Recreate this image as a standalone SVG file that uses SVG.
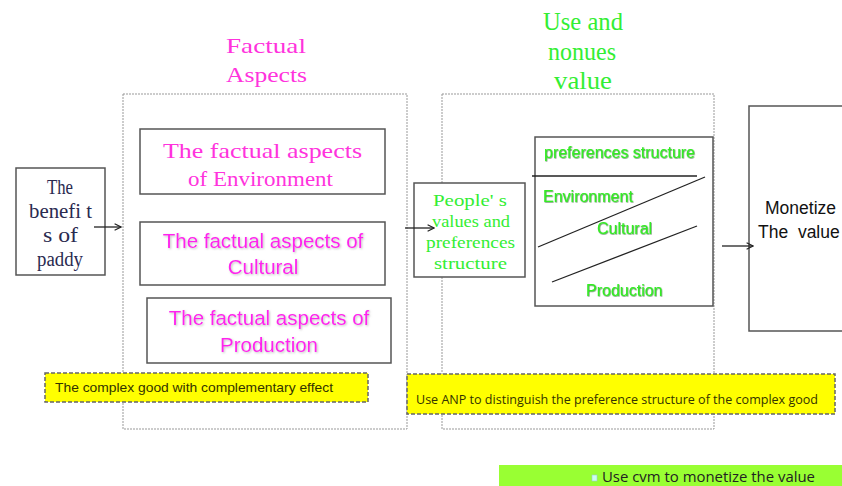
<svg xmlns="http://www.w3.org/2000/svg" width="842" height="486" viewBox="0 0 842 486">
<style>
.box{fill:#fff;stroke:#555;stroke-width:1.5}
.cont{fill:none;stroke:#999;stroke-width:1;stroke-dasharray:2,1}
.mag{fill:#ff33dd;font-family:"Liberation Serif",serif;font-size:22px}
.magS{fill:#ff22ee;font-family:"Liberation Sans",Arial,sans-serif;font-size:20.5px;filter:url(#sh)}
.grn{fill:#33ee33;font-family:"Liberation Serif",serif}
.grnS{fill:#33ee22;font-family:"Liberation Sans",Arial,sans-serif;font-size:16px;filter:url(#sh2)}
.yel{fill:#ffff00;stroke:#666;stroke-width:1.5;stroke-dasharray:4,2}
.ln{stroke:#222;stroke-width:1.3;fill:none}
.arr{stroke:#222;stroke-width:1.3;fill:none;marker-end:url(#ah)}
</style>
<defs>
<marker id="ah" viewBox="0 0 10 10" refX="9" refY="5" markerWidth="8" markerHeight="8" markerUnits="userSpaceOnUse" orient="auto">
<path d="M1,1 L9,5 L1,9" fill="none" stroke="#222" stroke-width="1.4"/>
</marker>
<filter id="sh" x="-5%" y="-20%" width="110%" height="140%">
<feDropShadow dx="1" dy="1" stdDeviation="1" flood-color="#999" flood-opacity="0.6"/>
</filter>
<filter id="sh2" x="-5%" y="-20%" width="110%" height="140%">
<feDropShadow dx="0.6" dy="0.6" stdDeviation="0.4" flood-color="#226622" flood-opacity="0.8"/>
</filter>
</defs>

<g id="benefits">
<rect class="box" x="16" y="168" width="89" height="107"/>
<g font-family="Liberation Serif,serif" font-size="20" fill="#2a2a50">
<text x="47" y="194" textLength="26" lengthAdjust="spacingAndGlyphs">The</text>
<text x="29" y="218" textLength="63" lengthAdjust="spacingAndGlyphs">benefi t</text>
<text x="43" y="242" textLength="35" lengthAdjust="spacingAndGlyphs">s of</text>
<text x="37" y="266" textLength="46" lengthAdjust="spacingAndGlyphs">paddy</text>
</g>
</g>

<g id="factual-aspects">
<rect class="cont" x="123" y="94" width="284" height="335"/>
<text class="mag" x="226" y="53" font-size="25" textLength="80" lengthAdjust="spacingAndGlyphs">Factual</text>
<text class="mag" x="226" y="82" font-size="25" textLength="81" lengthAdjust="spacingAndGlyphs">Aspects</text>
</g>

<g id="environment">
<rect class="box" x="140" y="129" width="245" height="65"/>
<text class="mag" x="163" y="158" textLength="199" lengthAdjust="spacingAndGlyphs">The factual aspects</text>
<text class="mag" x="188" y="186" textLength="145" lengthAdjust="spacingAndGlyphs">of Environment</text>
</g>

<g id="cultural">
<rect class="box" x="140" y="222" width="245" height="63"/>
<text class="magS" x="263" y="248" text-anchor="middle">The factual aspects of</text>
<text class="magS" x="263" y="274" text-anchor="middle">Cultural</text>
</g>

<g id="production">
<rect class="box" x="147" y="298" width="244" height="65"/>
<text class="magS" x="269" y="325" text-anchor="middle">The factual aspects of</text>
<text class="magS" x="269" y="352" text-anchor="middle">Production</text>
</g>

<g id="complex-good">
<rect class="yel" x="45" y="373" width="323" height="29"/>
<text x="55" y="392" font-family="Liberation Sans,Arial,sans-serif" font-size="13" fill="#333300" textLength="278" lengthAdjust="spacingAndGlyphs">The complex good with complementary effect</text>
</g>

<g id="use-nonuse">
<rect class="cont" x="442" y="94" width="272" height="335"/>
<text class="grn" x="543" y="30" font-size="25" textLength="80" lengthAdjust="spacingAndGlyphs">Use and</text>
<text class="grn" x="548" y="60" font-size="25" textLength="68" lengthAdjust="spacingAndGlyphs">nonues</text>
<text class="grn" x="554" y="89" font-size="25" textLength="58" lengthAdjust="spacingAndGlyphs">value</text>
</g>

<g id="peoples-values">
<rect class="box" x="414" y="183" width="111" height="94"/>
<g class="grn" font-size="17">
<text x="433" y="206" textLength="74" lengthAdjust="spacingAndGlyphs">People' s</text>
<text x="432" y="227" textLength="78" lengthAdjust="spacingAndGlyphs">values and</text>
<text x="426" y="248" textLength="89" lengthAdjust="spacingAndGlyphs">preferences</text>
<text x="434" y="269" textLength="73" lengthAdjust="spacingAndGlyphs">structure</text>
</g>
</g>

<g id="preferences-structure">
<rect class="box" x="535" y="137" width="178" height="169"/>
<text class="grnS" x="544" y="158" textLength="151" lengthAdjust="spacingAndGlyphs">preferences structure</text>
<line class="ln" x1="532" y1="176" x2="697" y2="176"/>
<line class="ln" x1="538" y1="247" x2="705" y2="177"/>
<line class="ln" x1="552" y1="282" x2="697" y2="226"/>
<text class="grnS" x="543" y="202">Environment</text>
<text class="grnS" x="597" y="234">Cultural</text>
<text class="grnS" x="586" y="296">Production</text>
</g>

<g id="monetize">
<rect class="box" x="749" y="106" width="100" height="225"/>
<g font-family="Liberation Sans,Arial,sans-serif" font-size="17.5" fill="#111">
<text x="765" y="214">Monetize</text>
<text x="758" y="238" xml:space="preserve">The  value</text>
</g>
</g>

<g id="anp">
<rect class="yel" x="407" y="374" width="428" height="40"/>
<text x="416" y="404" font-family="Open Sans,sans-serif" font-size="12.5" fill="#333300" textLength="402" lengthAdjust="spacingAndGlyphs">Use ANP to distinguish the preference structure of the complex good</text>
</g>

<g id="cvm">
<rect x="499" y="465" width="343" height="21" fill="#99ff33"/>
<rect x="592" y="475" width="5" height="6" fill="#cfe" stroke="#9cc" stroke-width="0.6"/>
<text x="602" y="482" font-family="Open Sans,sans-serif" font-size="14" fill="#222" textLength="213" lengthAdjust="spacingAndGlyphs">Use cvm to monetize the value</text>
</g>

<g id="connectors">
<line class="arr" x1="94" y1="227" x2="121" y2="227"/>
<line class="arr" x1="405" y1="228" x2="434" y2="228"/>
<line class="arr" x1="722" y1="246" x2="753" y2="246"/>
</g>
</svg>
